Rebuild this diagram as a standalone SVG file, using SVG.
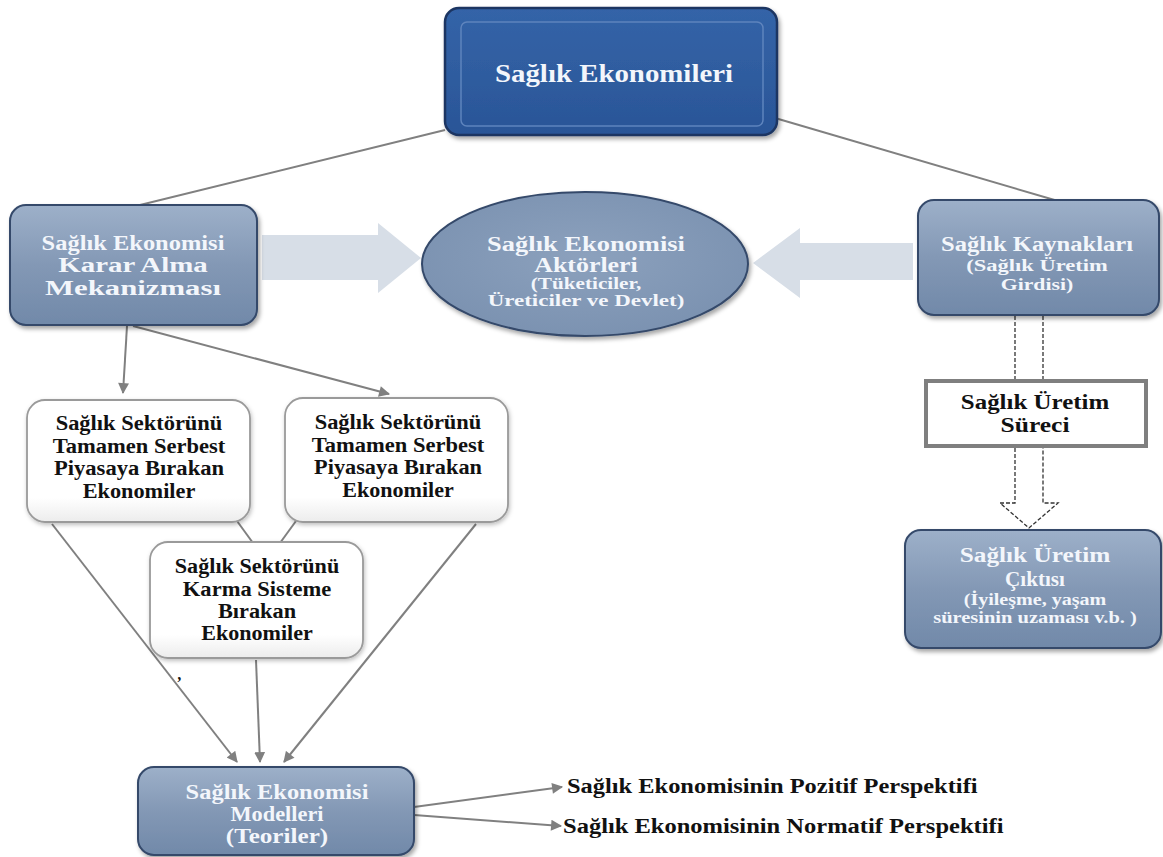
<svg xmlns="http://www.w3.org/2000/svg" width="1163" height="857" viewBox="0 0 1163 857">
<defs>
<linearGradient id="steel" x1="0" y1="0" x2="0" y2="1">
<stop offset="0" stop-color="#9db0c9"/>
<stop offset="0.5" stop-color="#8398b5"/>
<stop offset="1" stop-color="#7189a9"/>
</linearGradient>
<radialGradient id="steelE" cx="0.5" cy="0.45" r="0.6">
<stop offset="0" stop-color="#8ca1bd"/>
<stop offset="1" stop-color="#7a91b0"/>
</radialGradient>
<linearGradient id="whiteG" x1="0" y1="0" x2="0" y2="1">
<stop offset="0" stop-color="#ffffff"/>
<stop offset="0.8" stop-color="#ffffff"/>
<stop offset="1" stop-color="#ececec"/>
</linearGradient>
<linearGradient id="titleG" x1="0" y1="0" x2="0" y2="1">
<stop offset="0" stop-color="#3464a8"/>
<stop offset="1" stop-color="#2a5597"/>
</linearGradient>
<filter id="sh" x="-10%" y="-10%" width="125%" height="130%">
<feDropShadow dx="2" dy="3" stdDeviation="2" flood-color="#000" flood-opacity="0.35"/>
</filter>
<filter id="shw" x="-10%" y="-10%" width="125%" height="130%">
<feDropShadow dx="1" dy="2" stdDeviation="2" flood-color="#000" flood-opacity="0.25"/>
</filter>
<marker id="ah" viewBox="0 0 10 10" refX="9" refY="5" markerWidth="12" markerHeight="11" markerUnits="userSpaceOnUse" orient="auto">
<path d="M0,0 L10,5 L0,10 Z" fill="#808080"/>
</marker>
</defs>
<style>
.steel{fill:url(#steelE);stroke:#34496a;stroke-width:2}
.box{fill:url(#steel);stroke:#34496a;stroke-width:2}
.wbox{fill:url(#whiteG);stroke:#9a9a9a;stroke-width:1.8}
.wt{font-family:"Liberation Serif","Times New Roman",serif;font-weight:bold;fill:#f3f6fb;text-anchor:middle}
.bt{font-family:"Liberation Serif","Times New Roman",serif;font-weight:bold;fill:#111;text-anchor:middle}
.lt{font-family:"Liberation Serif","Times New Roman",serif;font-weight:bold;fill:#111}
.ln{stroke:#808080;stroke-width:2;fill:none}
.dash{stroke:#333;stroke-width:1.3;stroke-dasharray:4 2;fill:none}
.big{fill:#d7dee7}
</style>

<g id="connectors">
<line class="ln" x1="445" y1="130" x2="140" y2="205"/>
<line class="ln" x1="775" y1="118" x2="1058" y2="201"/>
<line class="ln" x1="127" y1="326" x2="123" y2="393" marker-end="url(#ah)"/>
<line class="ln" x1="133" y1="326" x2="389" y2="394" marker-end="url(#ah)"/>
<line class="ln" x1="237" y1="521" x2="253" y2="543"/>
<line class="ln" x1="296" y1="521" x2="280" y2="543"/>
<line class="ln" x1="52" y1="524" x2="237" y2="762" marker-end="url(#ah)"/>
<line class="ln" x1="256" y1="660" x2="260" y2="762" marker-end="url(#ah)"/>
<line class="ln" x1="476" y1="524" x2="284" y2="762" marker-end="url(#ah)"/>
<line class="ln" x1="414" y1="807" x2="562" y2="787" marker-end="url(#ah)"/>
<line class="ln" x1="414" y1="815" x2="561" y2="826" marker-end="url(#ah)"/>
<polygon class="big" points="262,235 378,235 378,223 421,258 378,293 378,280 262,280"/>
<polygon class="big" points="913,243 800,243 800,228 753,263 800,298 800,280 913,280"/>
<path class="dash" d="M1015,380 L1015,314 L1043,314 L1043,380"/>
<path class="dash" d="M1015,448 L1015,503 L1000,503 L1029,528 L1058,503 L1043,503 L1043,448"/>
</g>

<g id="title">
<rect x="445" y="8" width="332" height="127" rx="14" fill="url(#titleG)" stroke="#1c3562" stroke-width="2.5" filter="url(#sh)"/>
<rect x="461" y="22" width="302" height="104" rx="6" fill="none" stroke="#5e84bd" stroke-width="1.5"/>
<text class="wt" transform="translate(614 0) scale(1.15 1)" x="0" y="82" font-size="25" textLength="207" lengthAdjust="spacingAndGlyphs">Sağlık Ekonomileri</text>
</g>

<g id="karar">
<rect class="box" x="10" y="205" width="247" height="120" rx="16" filter="url(#sh)"/>
<g transform="translate(133 0) scale(1.15 1)">
<text class="wt" x="0" y="250" font-size="20" textLength="159" lengthAdjust="spacingAndGlyphs">Sağlık Ekonomisi</text>
<text class="wt" x="0" y="272" font-size="20" textLength="130" lengthAdjust="spacingAndGlyphs">Karar Alma</text>
<text class="wt" x="0" y="295" font-size="20" textLength="153" lengthAdjust="spacingAndGlyphs">Mekanizması</text>
</g>
</g>

<g id="aktorler">
<ellipse class="steel" cx="585" cy="264" rx="163" ry="72" filter="url(#sh)"/>
<g transform="translate(586 0) scale(1.15 1)">
<text class="wt" x="0" y="251" font-size="20" textLength="172" lengthAdjust="spacingAndGlyphs">Sağlık Ekonomisi</text>
<text class="wt" x="0" y="272" font-size="20" textLength="90" lengthAdjust="spacingAndGlyphs">Aktörleri</text>
<text class="wt" x="0" y="289" font-size="16" textLength="96" lengthAdjust="spacingAndGlyphs">(Tüketiciler,</text>
<text class="wt" x="0" y="306" font-size="16" textLength="171" lengthAdjust="spacingAndGlyphs">Üreticiler ve Devlet)</text>
</g>
</g>

<g id="kaynaklar">
<rect class="box" x="918" y="200" width="241" height="115" rx="16" filter="url(#sh)"/>
<g transform="translate(1037 0) scale(1.15 1)">
<text class="wt" x="0" y="251" font-size="20" textLength="167" lengthAdjust="spacingAndGlyphs">Sağlık Kaynakları</text>
<text class="wt" x="0" y="271" font-size="16" textLength="123" lengthAdjust="spacingAndGlyphs">(Sağlık Üretim</text>
<text class="wt" x="0" y="290" font-size="16" textLength="63" lengthAdjust="spacingAndGlyphs">Girdisi)</text>
</g>
</g>

<g id="surec">
<rect x="926" y="381" width="220" height="65" fill="#fff" stroke="#7f7f7f" stroke-width="4"/>
<g transform="translate(1035 0) scale(1.15 1)">
<text class="bt" x="0" y="409" font-size="20" textLength="129" lengthAdjust="spacingAndGlyphs">Sağlık Üretim</text>
<text class="bt" x="0" y="432" font-size="20" textLength="60" lengthAdjust="spacingAndGlyphs">Süreci</text>
</g>
</g>

<g id="cikti">
<rect class="box" x="905" y="530" width="256" height="118" rx="16" filter="url(#sh)"/>
<g transform="translate(1035 0) scale(1.15 1)">
<text class="wt" x="0" y="562" font-size="20" textLength="131" lengthAdjust="spacingAndGlyphs">Sağlık Üretim</text>
<text class="wt" x="0" y="586" font-size="20" textLength="52" lengthAdjust="spacingAndGlyphs">Çıktısı</text>
<text class="wt" x="0" y="605" font-size="16" textLength="124" lengthAdjust="spacingAndGlyphs">(İyileşme, yaşam</text>
<text class="wt" x="0" y="623" font-size="16" textLength="177" lengthAdjust="spacingAndGlyphs">süresinin uzaması v.b. )</text>
</g>
</g>

<g id="serbest1">
<rect class="wbox" x="27" y="400" width="223" height="122" rx="18" filter="url(#shw)"/>
<g transform="translate(139 0) scale(1.15 1)">
<text class="bt" x="0" y="430" font-size="20" textLength="145" lengthAdjust="spacingAndGlyphs">Sağlık Sektörünü</text>
<text class="bt" x="0" y="453" font-size="20" textLength="150" lengthAdjust="spacingAndGlyphs">Tamamen Serbest</text>
<text class="bt" x="0" y="475" font-size="20" textLength="148" lengthAdjust="spacingAndGlyphs">Piyasaya Bırakan</text>
<text class="bt" x="0" y="498" font-size="20" textLength="98" lengthAdjust="spacingAndGlyphs">Ekonomiler</text>
</g>
</g>

<g id="serbest2">
<rect class="wbox" x="285" y="398" width="223" height="124" rx="18" filter="url(#shw)"/>
<g transform="translate(398 0) scale(1.15 1)">
<text class="bt" x="0" y="429" font-size="20" textLength="145" lengthAdjust="spacingAndGlyphs">Sağlık Sektörünü</text>
<text class="bt" x="0" y="452" font-size="20" textLength="150" lengthAdjust="spacingAndGlyphs">Tamamen Serbest</text>
<text class="bt" x="0" y="474" font-size="20" textLength="146" lengthAdjust="spacingAndGlyphs">Piyasaya Bırakan</text>
<text class="bt" x="0" y="497" font-size="20" textLength="97" lengthAdjust="spacingAndGlyphs">Ekonomiler</text>
</g>
</g>

<g id="karma">
<rect class="wbox" x="150" y="542" width="213" height="116" rx="18" filter="url(#shw)"/>
<g transform="translate(257 0) scale(1.15 1)">
<text class="bt" x="0" y="573" font-size="20" textLength="143" lengthAdjust="spacingAndGlyphs">Sağlık Sektörünü</text>
<text class="bt" x="0" y="596" font-size="20" textLength="129" lengthAdjust="spacingAndGlyphs">Karma Sisteme</text>
<text class="bt" x="0" y="618" font-size="20" textLength="68" lengthAdjust="spacingAndGlyphs">Bırakan</text>
<text class="bt" x="0" y="640" font-size="20" textLength="97" lengthAdjust="spacingAndGlyphs">Ekonomiler</text>
</g>
</g>

<text class="lt" x="178" y="680" font-size="16" font-style="italic">,</text>

<g id="modeller">
<rect class="box" x="138" y="767" width="276" height="88" rx="16" filter="url(#sh)"/>
<g transform="translate(277 0) scale(1.15 1)">
<text class="wt" x="0" y="799" font-size="20" textLength="159" lengthAdjust="spacingAndGlyphs">Sağlık Ekonomisi</text>
<text class="wt" x="0" y="821" font-size="20" textLength="81" lengthAdjust="spacingAndGlyphs">Modelleri</text>
<text class="wt" x="0" y="843" font-size="20" textLength="89" lengthAdjust="spacingAndGlyphs">(Teoriler)</text>
</g>
</g>

<g id="pozitif">
<text class="lt" transform="translate(567 0) scale(1.15 1)" x="0" y="793" font-size="21" textLength="357" lengthAdjust="spacingAndGlyphs">Sağlık Ekonomisinin Pozitif Perspektifi</text>
</g>
<g id="normatif">
<text class="lt" transform="translate(563 0) scale(1.15 1)" x="0" y="833" font-size="21" textLength="383" lengthAdjust="spacingAndGlyphs">Sağlık Ekonomisinin Normatif Perspektifi</text>
</g>
</svg>
